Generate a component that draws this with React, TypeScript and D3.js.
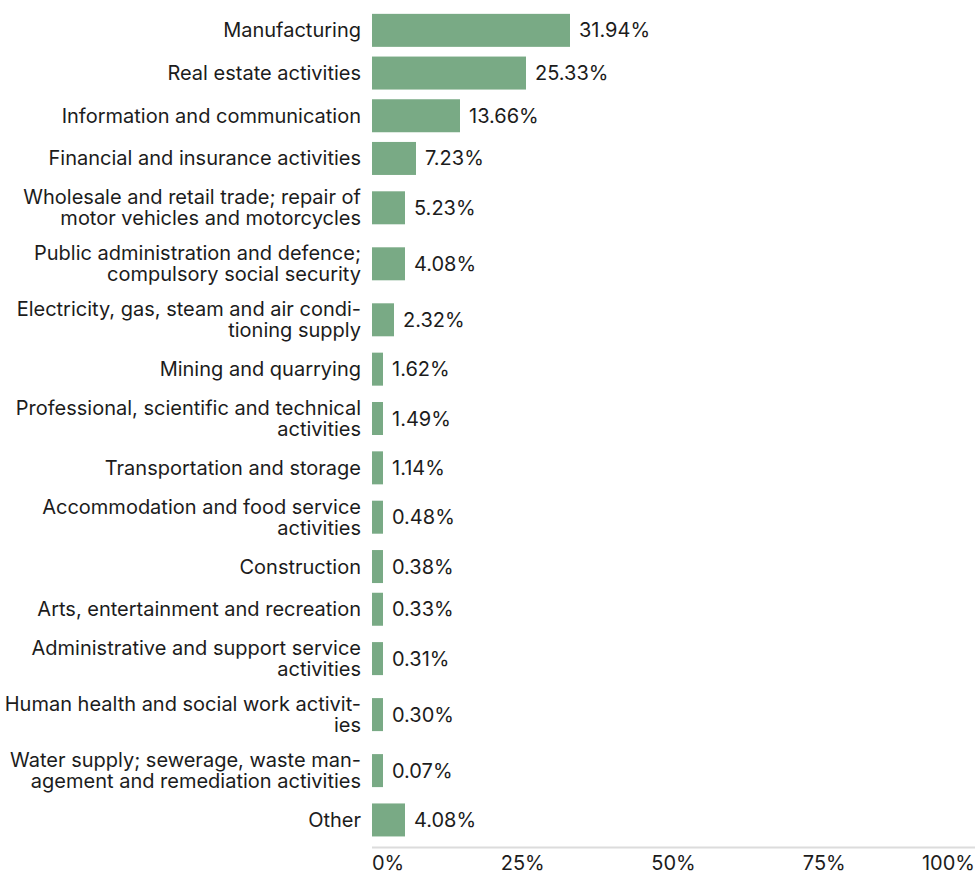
import React from "react";
import * as d3 from "d3";

const categories: string[] = [
  "Manufacturing",
  "Real estate activities",
  "Information and communication",
  "Financial and insurance activities",
  "Wholesale and retail trade; repair of\nmotor vehicles and motorcycles",
  "Public administration and defence;\ncompulsory social security",
  "Electricity, gas, steam and air condi-\ntioning supply",
  "Mining and quarrying",
  "Professional, scientific and technical\nactivities",
  "Transportation and storage",
  "Accommodation and food service\nactivities",
  "Construction",
  "Arts, entertainment and recreation",
  "Administrative and support service\nactivities",
  "Human health and social work activit-\nies",
  "Water supply; sewerage, waste man-\nagement and remediation activities",
  "Other",
];

const values: number[] = [
  31.94, 25.33, 13.66, 7.23, 5.23, 4.08, 2.32, 1.62, 1.49, 1.14, 0.48, 0.38, 0.33,
  0.31, 0.3, 0.07, 4.08,
];

const tickValues: number[] = [0, 25, 50, 75, 100];

const W = 975;
const H = 872;
const X0 = 372;
const X1 = 975;
const UNIT = 11;
const BAR_H = 33;
const SINGLE_H = 42.7;
const DOUBLE_H = 56;
const TOP = 9;
const FONT = "Inter, sans-serif";
const FS = 20;
const LINE = 21;
const GREEN = "#79aa85";
const TEXT = "#1c1c1c";

export default function App() {
  const x = d3.scaleLinear().domain([0, 100]).range([X0, X1]);

  const rows = categories.map((c, i) => ({
    lines: c.split("\n"),
    value: values[i],
  }));
  let acc = TOP;
  const laid = rows.map((r) => {
    const h = r.lines.length > 1 ? DOUBLE_H : SINGLE_H;
    const cy = acc + h / 2;
    acc += h;
    return { ...r, cy };
  });

  const fmt = (v: number) => v.toFixed(2) + "%";
  const barW = (v: number) => Math.ceil((x(v) - x(0)) / UNIT) * UNIT;
  const axisY = 847.5;

  return (
    <svg
      width={W}
      height={H}
      style={{ position: "absolute", left: 0, top: 0, background: "#fff" }}
      fontFamily={FONT}
      fontSize={FS}
    >
      {laid.map((r, i) => {
        const w = barW(r.value);
        const n = r.lines.length;
        return (
          <g key={i}>
            <text
              x={X0 - 11}
              y={r.cy}
              textAnchor="end"
              fill={TEXT}
              dominantBaseline="central"
            >
              {r.lines.map((l, j) => (
                <tspan key={j} x={X0 - 11} y={r.cy + (j - (n - 1) / 2) * LINE}>
                  {l}
                </tspan>
              ))}
            </text>
            <rect x={x(0)} y={r.cy - BAR_H / 2} width={w} height={BAR_H} fill={GREEN} />
            <text
              x={x(0) + w + 9}
              y={r.cy}
              fill={TEXT}
              dominantBaseline="central"
            >
              {fmt(r.value)}
            </text>
          </g>
        );
      })}
      <line x1={x(0)} x2={x(100)} y1={axisY} y2={axisY} stroke="#dcdcdc" strokeWidth={2} />
      {tickValues.map((t, i) => (
        <text
          key={t}
          x={x(t)}
          y={870}
          fill={TEXT}
          textAnchor={i === 0 ? "start" : i === tickValues.length - 1 ? "end" : "middle"}
        >
          {t + "%"}
        </text>
      ))}
    </svg>
  );
}
